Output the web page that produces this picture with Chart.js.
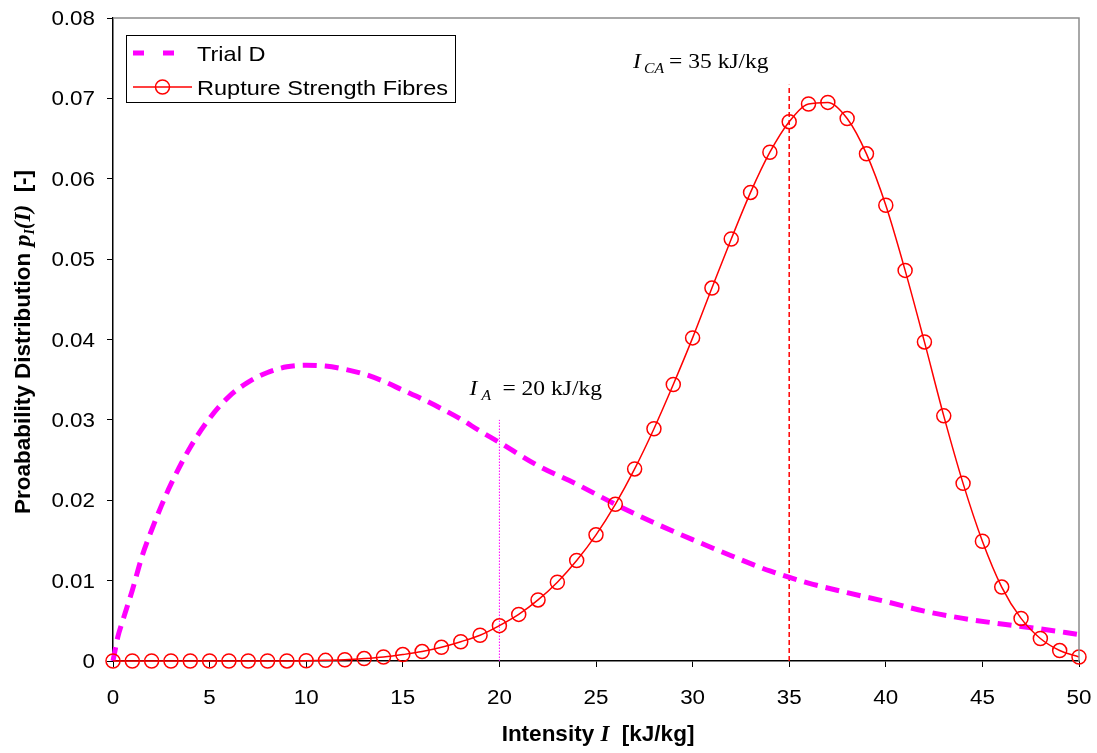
<!DOCTYPE html>
<html>
<head>
<meta charset="utf-8">
<script src="https://cdn.jsdelivr.net/npm/chart.js@4/dist/chart.umd.min.js"></script>
<style>
  html, body { margin: 0; padding: 0; background: #ffffff; }
  #wrap { width: 1097px; height: 753px; }
</style>
</head>
<body>
<div id="wrap"><canvas id="chart" width="1097" height="753"></canvas></div>
<script>
// Intensity grid of the rupture strength distribution (kJ/kg)
const intensity = [0,1,2,3,4,5,6,7,8,9,10,11,12,13,14,15,16,17,18,19,20,
  21,22,23,24,25,26,27,28,29,30,31,32,33,34,35,36,37,38,39,40,
  41,42,43,44,45,46,47,48,49,50];
// Probability density of the fibre rupture strength
const ruptureFibres = [0,0,0,0,0,0,0,0,0,0.00001,0.00003,0.00008,0.00015,0.0003,0.0005,0.0008,0.00117,0.0017,0.0024,0.0032,0.0044,
  0.0058,0.0076,0.0098,0.0125,0.0157,0.0195,0.0239,0.0289,0.0344,0.0402,
  0.0464,0.0525,0.0583,0.0633,0.0671,0.0693,0.0695,0.0675,0.0631,0.0567,
  0.0486,0.0397,0.0305,0.0221,0.0149,0.0092,0.0053,0.0028,0.0013,0.0005];

// Intensity grid and density of the Trial D loading
const trialX = [0,0.25,0.5,1,1.5,2,2.5,3,4,5,6,7,8,9,10,11,12,13,14,15,16,17,18,19,20,
  22,24,26,28,30,32,34,36,38,40,42,44,46,48,50];
const trialD = [0,0.0030,0.0050,0.0088,0.0130,0.0163,0.0193,0.0220,0.0266,0.0302,0.0329,0.0347,0.0359,0.0366,0.0368,
  0.0367,0.0363,0.0357,0.0348,0.0337,0.0326,0.0314,0.0301,0.0286,0.0272,
  0.0243,0.0220,0.0195,0.0172,0.0151,0.0131,0.0112,0.0097,0.0085,0.0074,0.0062,0.0053,0.0046,0.0040,0.0033];

// Reference intensities and the height of their marker lines
const markerIA = { x: 20, top: 0.030 };
const markerICA = { x: 35, top: 0.0717 };

// Axis ticks and their labels
const xTicks = [0,5,10,15,20,25,30,35,40,45,50];
const yTicks = [0,0.01,0.02,0.03,0.04,0.05,0.06,0.07,0.08];
const yTickLabels = ['0','0.01','0.02','0.03','0.04','0.05','0.06','0.07','0.08'];

const RED = '#ff0000';
const MAGENTA = '#ff00ff';
const SANS = '"Liberation Sans", Arial, sans-serif';
const SERIF = '"Liberation Serif", "Times New Roman", serif';
const WIDE = 1.12; // horizontal widening of the chart lettering

const toPoints = (xs, ys) => xs.map((x, i) => ({ x: x, y: ys[i] }));

// Text drawn slightly widened
function wideText(ctx, text, x, y, align, font, sx) {
  ctx.save();
  ctx.font = font;
  ctx.textAlign = align;
  ctx.textBaseline = 'alphabetic';
  ctx.translate(x, y);
  ctx.scale(sx, 1);
  ctx.fillText(text, 0, 0);
  ctx.restore();
}

// Differently styled runs on one baseline; runs with dx sit at fixed offsets
function drawRuns(ctx, runs, x, y, align, sx) {
  sx = sx || 1;
  let total = 0;
  runs.forEach(r => { ctx.font = r.font; r.w = ctx.measureText(r.text).width * sx; total += r.w; });
  let cx = align === 'center' ? x - total / 2 : x;
  runs.forEach(r => {
    const px = r.dx !== undefined ? x + r.dx : cx;
    wideText(ctx, r.text, px, y + (r.dy || 0), 'left', r.font, sx);
    cx += r.w;
  });
}

const decorations = {
  id: 'decorations',
  afterDraw(chart) {
    const ctx = chart.ctx;
    const xs = chart.scales.x, ys = chart.scales.y;
    const area = chart.chartArea;
    ctx.save();

    // grey frame on top and right of the plot area
    ctx.strokeStyle = '#8c8c8c';
    ctx.lineWidth = 1.5;
    ctx.beginPath();
    ctx.moveTo(area.left, area.top);
    ctx.lineTo(area.right, area.top);
    ctx.lineTo(area.right, area.bottom);
    ctx.stroke();

    ctx.fillStyle = '#000';
    // tick labels, placed by the scales
    const tickFont = '20px ' + SANS;
    yTicks.forEach((v, i) => {
      wideText(ctx, yTickLabels[i], area.left - 18, ys.getPixelForValue(v) + 7, 'right', tickFont, WIDE);
    });
    xTicks.forEach(v => {
      wideText(ctx, String(v), xs.getPixelForValue(v), area.bottom + 43, 'center', tickFont, WIDE);
    });

    // reference labels
    drawRuns(ctx, [
      { text: 'I', font: 'italic 21px ' + SERIF, dx: 0 },
      { text: 'A', font: 'italic 14px ' + SERIF, dx: 12, dy: 5 },
      { text: '= 20 kJ/kg', font: '21px ' + SERIF, dx: 33 }
    ], xs.getPixelForValue(18.45), ys.getPixelForValue(0.0331), 'left', WIDE);
    drawRuns(ctx, [
      { text: 'I', font: 'italic 21px ' + SERIF, dx: 0 },
      { text: 'CA', font: 'italic 14px ' + SERIF, dx: 11, dy: 5 },
      { text: '= 35 kJ/kg', font: '21px ' + SERIF, dx: 36 }
    ], xs.getPixelForValue(26.92), ys.getPixelForValue(0.0738), 'left', WIDE);

    // x axis title
    drawRuns(ctx, [
      { text: 'Intensity ', font: 'bold 22.5px ' + SANS },
      { text: 'I', font: 'bold italic 23px ' + SERIF },
      { text: '  [kJ/kg]', font: 'bold 22.5px ' + SANS }
    ], (area.left + area.right) / 2 + 2, 741, 'center');

    // y axis title
    ctx.save();
    ctx.translate(30, 342);
    ctx.rotate(-Math.PI / 2);
    drawRuns(ctx, [
      { text: 'Proabability Distribution ', font: 'bold 22.5px ' + SANS },
      { text: 'p', font: 'bold italic 24px ' + SERIF },
      { text: 'I', font: 'bold italic 14px ' + SERIF, dy: 4 },
      { text: '(I)', font: 'bold italic 23px ' + SERIF },
      { text: '  [-]', font: 'bold 22.5px ' + SANS }
    ], 0, 0, 'center');
    ctx.restore();

    // legend box
    const bx = area.left + 13, by = area.top + 17, bw = 329, bh = 67;
    ctx.fillStyle = '#fff';
    ctx.fillRect(bx, by, bw, bh);
    ctx.strokeStyle = '#000';
    ctx.lineWidth = 1;
    ctx.strokeRect(bx + 0.5, by + 0.5, bw, bh);
    const row1 = by + 18, row2 = by + 52;
    const sx0 = bx + 7, sx1 = bx + 66;
    ctx.strokeStyle = MAGENTA;
    ctx.lineWidth = 5;
    ctx.setLineDash([11, 19]);
    ctx.beginPath();
    ctx.moveTo(sx0, row1);
    ctx.lineTo(sx1, row1);
    ctx.stroke();
    ctx.setLineDash([]);
    ctx.strokeStyle = RED;
    ctx.lineWidth = 1.5;
    ctx.beginPath();
    ctx.moveTo(sx0, row2);
    ctx.lineTo(sx1, row2);
    ctx.stroke();
    ctx.beginPath();
    ctx.arc((sx0 + sx1) / 2, row2, 7, 0, Math.PI * 2);
    ctx.stroke();
    ctx.fillStyle = '#000';
    const legFont = '21px ' + SANS;
    wideText(ctx, 'Trial D', bx + 71, row1 + 8, 'left', legFont, WIDE);
    wideText(ctx, 'Rupture Strength Fibres', bx + 71, row2 + 8, 'left', legFont, WIDE);
    ctx.restore();
  }
};

new Chart(document.getElementById('chart'), {
  type: 'line',
  data: {
    datasets: [
      {
        label: 'Rupture Strength Fibres',
        data: toPoints(intensity, ruptureFibres),
        borderColor: RED,
        borderWidth: 1.5,
        cubicInterpolationMode: 'monotone',
        pointRadius: 7,
        pointBorderWidth: 1.5,
        pointBorderColor: RED,
        pointBackgroundColor: 'rgba(0,0,0,0)',
        fill: false,
        order: 0
      },
      {
        label: 'Trial D',
        data: toPoints(trialX, trialD),
        borderColor: MAGENTA,
        borderWidth: 5,
        borderDash: [14, 8],
        cubicInterpolationMode: 'monotone',
        pointRadius: 0,
        fill: false,
        order: 1
      },
      {
        label: 'I_A',
        data: [{ x: markerIA.x, y: 0 }, { x: markerIA.x, y: markerIA.top }],
        borderColor: MAGENTA,
        borderWidth: 1,
        borderDash: [1.5, 1.5],
        pointRadius: 0,
        fill: false,
        order: 2
      },
      {
        label: 'I_CA',
        data: [{ x: markerICA.x, y: 0 }, { x: markerICA.x, y: markerICA.top }],
        borderColor: RED,
        borderWidth: 1.5,
        borderDash: [5, 3],
        pointRadius: 0,
        fill: false,
        order: 2
      }
    ]
  },
  options: {
    responsive: false,
    animation: false,
    clip: false,
    layout: { padding: { left: 0, top: 18, right: 18, bottom: 0 } },
    plugins: { legend: { display: false }, tooltip: { enabled: false } },
    scales: {
      x: {
        type: 'linear',
        min: 0, max: 50,
        afterBuildTicks: s => { s.ticks = xTicks.map(v => ({ value: v })); },
        afterFit: s => { s.height = 92; },
        border: { display: true, color: '#000', width: 1.5 },
        grid: { drawOnChartArea: false, drawTicks: true, tickLength: 6, color: '#000', lineWidth: 1 },
        ticks: { display: false }
      },
      y: {
        type: 'linear',
        min: 0, max: 0.08,
        afterBuildTicks: s => { s.ticks = yTicks.map(v => ({ value: v })); },
        afterFit: s => { s.width = 113; },
        border: { display: true, color: '#000', width: 1.5 },
        grid: { drawOnChartArea: false, drawTicks: true, tickLength: 6, color: '#000', lineWidth: 1 },
        ticks: { display: false }
      }
    }
  },
  plugins: [decorations]
});
</script>
</body>
</html>
